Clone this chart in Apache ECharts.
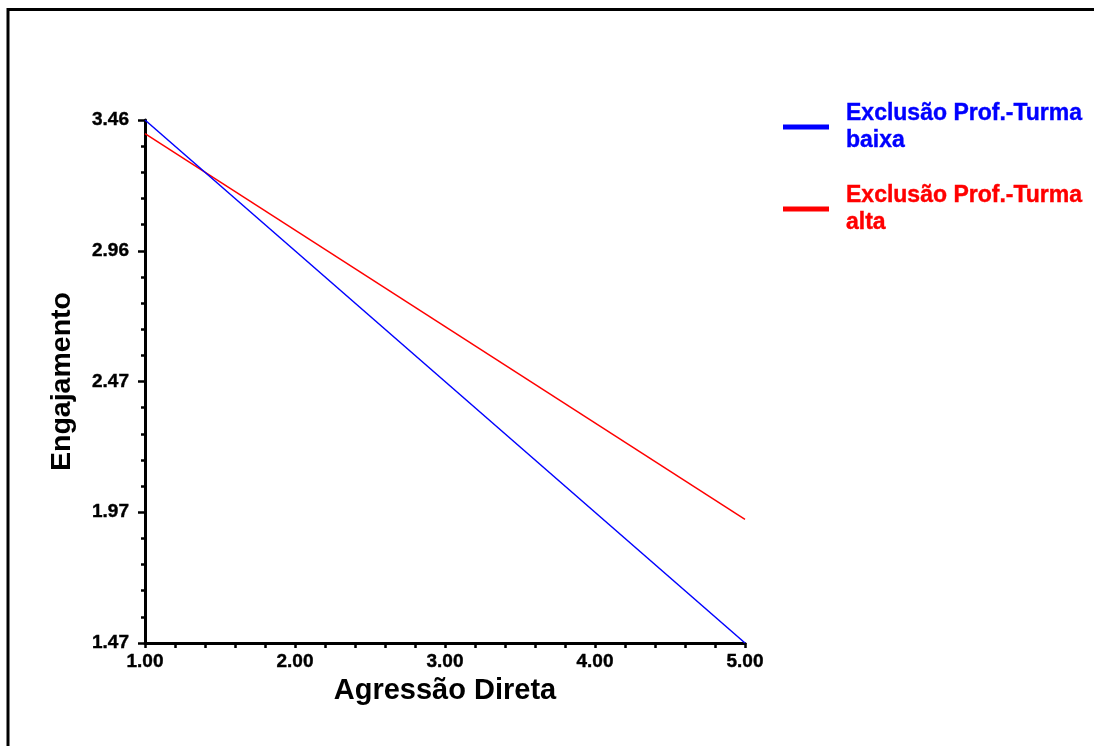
<!DOCTYPE html>
<html>
<head>
<meta charset="utf-8">
<script src="https://cdn.jsdelivr.net/npm/echarts@6/dist/echarts.min.js"></script>
<style>
  html, body { margin: 0; padding: 0; background: #ffffff; }
  #chart { width: 1094px; height: 746px; }
</style>
</head>
<body>
<div id="chart"></div>
<script>
// Simple slopes: Engajamento vs Agressão Direta at low / high Exclusão Prof.-Turma
const xValues = [1.0, 5.0];
const seriesNames = ['Exclusão Prof.-Turma\nbaixa', 'Exclusão Prof.-Turma\nalta'];
const lowExclusion = [3.46, 1.47];
const highExclusion = [3.408, 1.94];
const xTickLabels = ['1.00', '2.00', '3.00', '4.00', '5.00'];
const yTickLabels = ['1.47', '1.97', '2.47', '2.96', '3.46'];

const yMin = 1.47;
const yMax = 3.46;
const FONT = '"Liberation Sans", Arial, sans-serif';

// evenly spaced major ticks between the axis ends, four minor ticks in each step
const yStep = (yMax - yMin) / (yTickLabels.length - 1);
const yMajor = yTickLabels.map((_, i) => yMin + i * yStep);
const yMinor = [];
for (let i = 0; i < yTickLabels.length - 1; i++) {
  for (let k = 1; k < 5; k++) yMinor.push(yMin + i * yStep + k * yStep / 5);
}

function yLabel(v) {
  let best = 0;
  yMajor.forEach((m, i) => { if (Math.abs(m - v) < Math.abs(yMajor[best] - v)) best = i; });
  return yTickLabels[best];
}

const tickText = {
  fontFamily: FONT, fontWeight: 'bold', fontSize: 19, color: '#000',
  textBorderColor: '#000', textBorderWidth: 0.4
};

const chart = echarts.init(document.getElementById('chart'), null, { renderer: 'canvas' });

chart.setOption({
  backgroundColor: '#ffffff',
  animation: false,
  grid: { left: 145, right: 349, top: 120, bottom: 103, containLabel: false },
  graphic: [{
    type: 'rect',
    shape: { x: 8, y: 9.5, width: 1300, height: 1000 },
    style: { fill: 'none', stroke: '#000000', lineWidth: 3 },
    silent: true
  }],
  legend: {
    orient: 'vertical',
    left: 783,
    top: 100,
    padding: 0,
    itemWidth: 46,
    itemHeight: 5,
    itemGap: 28,
    icon: 'rect',
    selectedMode: false,
    data: [
      { name: seriesNames[0], textStyle: { color: '#0000ff', textBorderColor: '#0000ff' } },
      { name: seriesNames[1], textStyle: { color: '#ff0000', textBorderColor: '#ff0000' } }
    ],
    textStyle: {
      fontFamily: FONT, fontWeight: 'bold', fontSize: 23, lineHeight: 27,
      textBorderWidth: 0.4,
      padding: [0, 0, 0, 12]
    }
  },
  xAxis: {
    type: 'value',
    min: 1, max: 5, interval: 1,
    name: 'Agressão Direta',
    nameLocation: 'middle',
    nameGap: 33,
    nameTextStyle: { fontFamily: FONT, fontWeight: 'bold', fontSize: 29, color: '#000' },
    axisLine: { show: true, onZero: false, lineStyle: { color: '#000', width: 3 } },
    axisTick: { show: true, length: 5, lineStyle: { color: '#000', width: 2.5 } },
    minorTick: { show: true, splitNumber: 5, length: 5, lineStyle: { color: '#000', width: 2.5 } },
    splitLine: { show: false },
    minorSplitLine: { show: false },
    axisLabel: Object.assign({
      margin: 9,
      formatter: (v) => xTickLabels[Math.round(v) - 1] || ''
    }, tickText)
  },
  yAxis: [{
    type: 'value',
    min: yMin, max: yMax,
    position: 'left',
    offset: 0,
    name: 'Engajamento',
    nameLocation: 'middle',
    nameGap: 68,
    nameRotate: 90,
    nameTextStyle: { fontFamily: FONT, fontWeight: 'bold', fontSize: 28.5, color: '#000' },
    axisLine: { show: true, onZero: false, lineStyle: { color: '#000', width: 3 } },
    axisTick: { show: true, length: 7, customValues: yMajor, lineStyle: { color: '#000', width: 2.5 } },
    splitLine: { show: false },
    axisLabel: Object.assign({
      margin: 16,
      customValues: yMajor,
      formatter: yLabel
    }, tickText)
  }, {
    type: 'value',
    min: yMin, max: yMax,
    position: 'left',
    offset: 0,
    axisLine: { show: false },
    axisTick: { show: true, length: 4, customValues: yMinor, lineStyle: { color: '#000', width: 2.5 } },
    axisLabel: { show: false },
    splitLine: { show: false }
  }],
  series: [{
    name: seriesNames[0],
    type: 'line',
    yAxisIndex: 0,
    data: xValues.map((x, i) => [x, lowExclusion[i]]),
    symbol: 'none',
    color: '#0000ff',
    itemStyle: { color: '#0000ff' },
    lineStyle: { color: '#0000ff', width: 1.5 },
    z: 3
  }, {
    name: seriesNames[1],
    type: 'line',
    yAxisIndex: 0,
    data: xValues.map((x, i) => [x, highExclusion[i]]),
    symbol: 'none',
    color: '#ff0000',
    itemStyle: { color: '#ff0000' },
    lineStyle: { color: '#ff0000', width: 1.5 },
    z: 2
  }]
});
</script>
</body>
</html>
